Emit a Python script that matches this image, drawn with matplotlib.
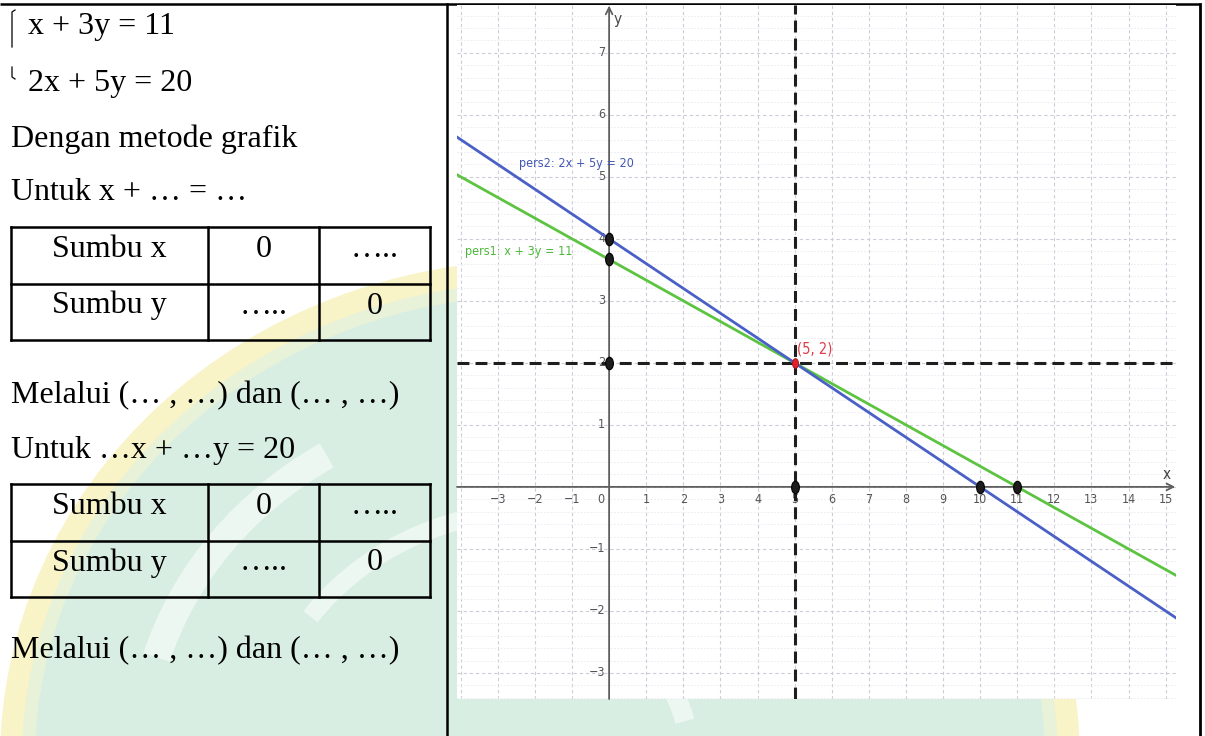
"""Sistem persamaan linear dua variabel - metode grafik"""
import matplotlib
matplotlib.use("Agg")
import numpy as np
import matplotlib.pyplot as plt
from matplotlib import font_manager
from matplotlib.patches import Ellipse, Arc
from matplotlib.path import Path
from matplotlib.transforms import Affine2D
from matplotlib.ticker import MultipleLocator

# left column (worksheet text)
system_eqs = ["x + 3y = 11", "2x + 5y = 20"]
method_line = "Dengan metode grafik"
step_titles = ["Untuk x + … = …", "Untuk …x + …y = 20"]
through_line = "Melalui (… , …) dan (… , …)"
row_labels = ["Sumbu x", "Sumbu y"]
cell_values = [["0", "….."], ["…..", "0"]]

# right column (GeoGebra graph)
x_tick_vals = [-3, -2, -1, 0, 1, 2, 3, 4, 5, 6, 7, 8, 9, 10, 11, 12, 13, 14, 15]
y_tick_vals = [-3, -2, -1, 1, 2, 3, 4, 5, 6, 7]
pers1_label = "pers1: x + 3y = 11"
pers2_label = "pers2: 2x + 5y = 20"
pers1_pts = [(0, 11 / 3), (11, 0)]
pers2_pts = [(0, 4), (10, 0)]
solution = (5, 2)
solution_label = "(5, 2)"
black_x = [0, 0, 0, 5, 10, 11]
black_y = [4, 11 / 3, 2, 0, 0, 0]

names = {f.name for f in font_manager.fontManager.ttflist}
serif = "Liberation Serif" if "Liberation Serif" in names else "DejaVu Serif"
narrow = "Liberation Sans Narrow" if "Liberation Sans Narrow" in names else "DejaVu Sans"
narrow_kw = dict(family=narrow)
if narrow == "DejaVu Sans":
    narrow_kw["fontstretch"] = "condensed"

fig = plt.figure(figsize=(12.05, 7.36), dpi=100)
fig.patch.set_facecolor("white")

# page layer in pixel coordinates
page = fig.add_axes([0, 0, 1, 1])
page.set_xlim(0, 1205)
page.set_ylim(736, 0)
page.axis("off")

# faint watermark logo behind everything
cx, cy, ew, eh = 540, 760, 1080, 1000
page.add_patch(Ellipse((cx, cy), ew, eh, facecolor="#f9f3c8", edgecolor="none", zorder=0))
page.add_patch(Ellipse((cx, cy), ew - 44, eh - 44, facecolor="#e8f2d8", edgecolor="none", zorder=0.1))
page.add_patch(Ellipse((cx, cy), ew - 70, eh - 70, facecolor="#d8eee3", edgecolor="none", zorder=0.2))
for w, h, t1, t2, lw in [(800, 720, 195, 235, 20), (560, 500, 212, 262, 13),
                         (300, 300, 300, 345, 14)]:
    page.add_patch(Arc((cx, cy), w, h, theta1=t1, theta2=t2, lw=lw,
                       color="white", alpha=0.55, zorder=0.3))

# borders
page.plot([0, 1200], [4, 4], color="black", lw=1.8, solid_capstyle="butt", zorder=3)
page.plot([447, 447], [4, 736], color="black", lw=1.8, zorder=3)
page.plot([1200, 1200], [4, 736], color="black", lw=2.0, zorder=3)

txt = dict(family=serif, fontsize=23, color="black", va="baseline", zorder=4)

# system with brace
page.text(28, 34, system_eqs[0], **txt)
page.text(28, 91, system_eqs[1], **txt)
page.plot([15, 12, 12], [10, 12, 47], color="black", lw=0.9, zorder=4)
page.plot([12, 12, 15], [67, 77, 79], color="black", lw=0.9, zorder=4)

page.text(11, 147, method_line, **txt)


def draw_table(top):
    cols = [11, 208, 319, 430]
    rows = [top, top + 57, top + 113]
    for yv in rows:
        page.plot([cols[0], cols[-1]], [yv, yv], color="black", lw=1.8,
                  solid_capstyle="projecting", zorder=4)
    for xv in cols:
        page.plot([xv, xv], [rows[0], rows[-1]], color="black", lw=1.8,
                  solid_capstyle="projecting", zorder=4)
    for i, lab in enumerate(row_labels):
        base = top + 30 + i * 56.5
        cells = [lab] + cell_values[i]
        for j, s in enumerate(cells):
            page.text((cols[j] + cols[j + 1]) / 2, base, s, ha="center", **txt)


page.text(11, 200, step_titles[0], **txt)
draw_table(227)
page.text(11, 403, through_line, **txt)
page.text(11, 458, step_titles[1], **txt)
draw_table(484)
page.text(11, 658, through_line, **txt)

# GeoGebra graph
W, H = 1205, 736
gl, gr, gt, gb = 457, 1176, 5, 699
ax = fig.add_axes([gl / W, (H - gb) / H, (gr - gl) / W, (gb - gt) / H])
ax.set_facecolor("white")
ax.set_xlim(-4.10, 15.28)
ax.set_ylim(-3.42, 7.77)
for s in ax.spines.values():
    s.set_visible(False)
ax.xaxis.set_major_locator(MultipleLocator(1))
ax.yaxis.set_major_locator(MultipleLocator(1))
ax.yaxis.set_minor_locator(MultipleLocator(0.2))
ax.tick_params(which="both", length=0, labelbottom=False, labelleft=False)
ax.grid(which="major", color="#cdcdda", lw=0.8, dashes=(3, 2.5))
ax.grid(which="minor", axis="y", color="#e9e9f0", lw=0.6, dashes=(2, 2))
ax.set_axisbelow(True)

axis_col = "#5f5f5f"
ax.annotate("", xy=(15.26, 0), xytext=(-4.10, 0),
            arrowprops=dict(arrowstyle="->", color=axis_col, lw=1.3,
                            mutation_scale=12, shrinkA=0, shrinkB=0))
ax.annotate("", xy=(0, 7.76), xytext=(0, -3.42),
            arrowprops=dict(arrowstyle="->", color=axis_col, lw=1.3,
                            mutation_scale=12, shrinkA=0, shrinkB=0))

tick_kw = dict(color="#555555", fontsize=9, **narrow_kw)
for v in x_tick_vals:
    lab = str(v).replace("-", "\u2212")
    ax.text(v - 0.22 if v == 0 else v, -0.21, lab, ha="center", va="center", **tick_kw)
for v in y_tick_vals:
    lab = str(v).replace("-", "\u2212")
    ax.text(-0.1, v, lab, ha="right", va="center", **tick_kw)
ax.text(0.12, 7.53, "y", ha="left", va="center", color="#444444", fontsize=11, **narrow_kw)
ax.text(15.03, 0.2, "x", ha="center", va="center", color="#444444", fontsize=11, **narrow_kw)

# dashed guides through the solution
ax.axhline(solution[1], color="#1e1e1e", lw=2.2, dashes=(3.9, 2.0), zorder=3)
ax.axvline(solution[0], color="#1e1e1e", lw=2.2, dashes=(3.9, 2.0), zorder=3)

# the two equations
ax.axline(pers1_pts[0], pers1_pts[1], color="#5cc440", lw=2.0, zorder=4)
ax.axline(pers2_pts[0], pers2_pts[1], color="#4a60c6", lw=2.0, zorder=4)
ax.text(-3.88, 3.79, pers1_label, color="#4cb83a", fontsize=9, va="center",
        ha="left", **narrow_kw)
ax.text(-2.43, 5.22, pers2_label, color="#4257b5", fontsize=9, va="center",
        ha="left", **narrow_kw)

# points (squashed like the screenshot)
ell = Affine2D().scale(0.62, 1.0).transform_path(Path.unit_circle())
ax.plot(black_x, black_y, ls="none", marker=ell, ms=9, mfc="#1c1c1c",
        mec="black", mew=0.8, zorder=5)
ax.plot([solution[0]], [solution[1]], ls="none", marker=ell, ms=7,
        mfc="#e0202c", mec="#b01018", mew=0.6, zorder=6)
ax.text(5.07, 2.22, solution_label, color="#e03a4a", fontsize=10.5, ha="left",
        va="center", **narrow_kw)

fig.savefig("out.png", dpi=100, facecolor="white")
